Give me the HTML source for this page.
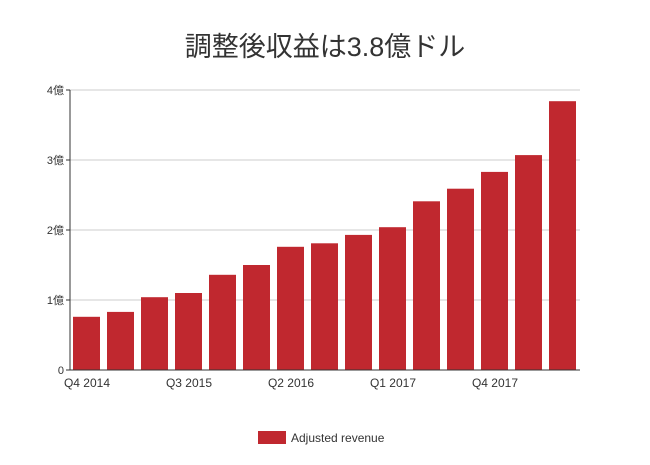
<!DOCTYPE html>
<html><head><meta charset="utf-8"><style>
body{margin:0;background:#fff;width:650px;height:460px;overflow:hidden;font-family:"Liberation Sans","Noto Sans CJK JP",sans-serif}
</style></head><body>
<svg width="650" height="460">
<text x="325" y="56" text-anchor="middle" font-size="27" fill="#333" font-family="Liberation Sans, Noto Sans CJK JP, sans-serif">調整後収益は3.8億ドル</text>
<g id="grid"></g><g id="bars"></g><g id="axes"></g>
<g>
<rect x="258" y="431" width="28" height="13" fill="#c0282f"/>
<text x="291" y="442" font-size="12" fill="#333">Adjusted revenue</text>
</g>
</svg>
<script>
const categories=["Q4 2014","Q1 2015","Q2 2015","Q3 2015","Q4 2015","Q1 2016","Q2 2016","Q3 2016","Q4 2016","Q1 2017","Q2 2017","Q3 2017","Q4 2017","Q1 2018","Q2 2018"];
const values=[0.76,0.83,1.04,1.10,1.36,1.50,1.76,1.81,1.93,2.04,2.41,2.59,2.83,3.07,3.84];
const yTicks=[0,1,2,3,4];
const yTickLabels=["0","1億","2億","3億","4億"];
const NS="http://www.w3.org/2000/svg";
const x0=70,band=34,plotTop=90,plotBottom=370,ymax=4;
const y=v=>plotBottom-(plotBottom-plotTop)*v/ymax;
const xb=i=>x0+i*band;
function mk(t,a,p){const e=document.createElementNS(NS,t);for(const k in a)e.setAttribute(k,a[k]);p.appendChild(e);return e;}
const grid=document.getElementById('grid'),bars=document.getElementById('bars'),axes=document.getElementById('axes');
yTicks.forEach((t,i)=>{
 if(t>0){const l=mk('line',{x1:x0,x2:x0+band*categories.length,y1:y(t),y2:y(t),stroke:'#ccc','stroke-width':1},grid);
 
 }
 const tk=mk('line',{x1:x0-4,x2:x0,y1:y(t),y2:y(t),stroke:'#333'},axes);
 
 
 const tx=mk('text',{x:x0-6,y:y(t)+4,'text-anchor':'end','font-size':11,fill:'#333'},axes);
 tx.textContent=yTickLabels[i];
 
 
});
values.forEach((v,i)=>{
 const r=mk('rect',{x:xb(i)+3,y:y(v),width:27,height:plotBottom-y(v),fill:'#c0282f'},bars);
 
 
 if(i%3===0){const t=mk('text',{x:xb(i)+band/2,y:plotBottom+17,'text-anchor':'middle','font-size':12,fill:'#333'},axes);
 t.textContent=categories[i];
 
 }
});
const ya=mk('line',{x1:x0,x2:x0,y1:plotTop,y2:plotBottom,stroke:'#333','stroke-width':1},axes);


const xa=mk('line',{x1:x0,x2:x0+band*categories.length,y1:plotBottom,y2:plotBottom,stroke:'#333','stroke-width':1},axes);


</script>
</body></html>
